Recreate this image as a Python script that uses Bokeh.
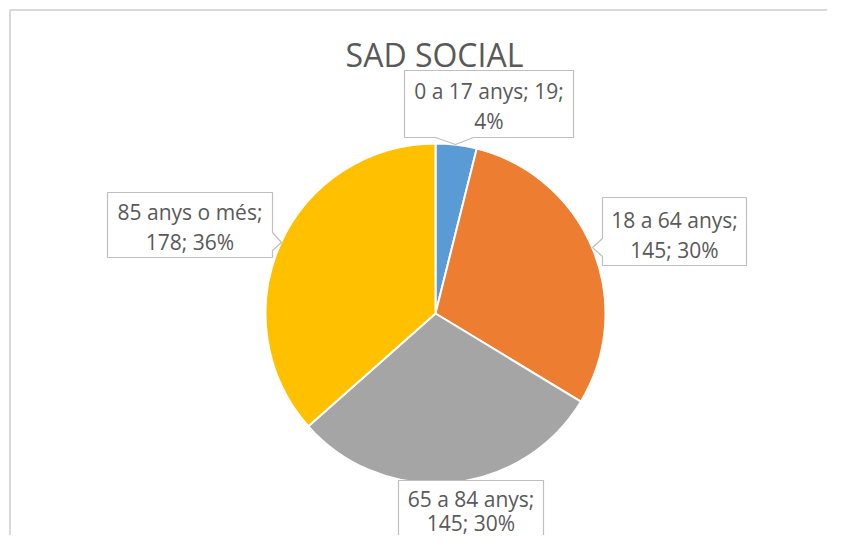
import numpy as np
from bokeh.plotting import figure
from bokeh.models import Range1d, ColumnDataSource
from bokeh.embed import file_html
from bokeh.resources import INLINE
from bokeh.core.properties import value

# ---- data ----
title_text = "SAD SOCIAL"
categories = ["0 a 17 anys", "18 a 64 anys", "65 a 84 anys", "85 anys o més"]
counts = [19, 145, 145, 178]
percent_labels = ["4%", "30%", "30%", "36%"]
colors = ["#5B9BD5", "#ED7D31", "#A5A5A5", "#FFC000"]
label_line1 = ["0 a 17 anys; 19;", "18 a 64 anys;", "65 a 84 anys;", "85 anys o més;"]
label_line2 = ["4%", "145; 30%", "145; 30%", "178; 36%"]

# ---- layout (screenshot pixel coords) ----
W, H = 827, 535


def X(px):
    return px


def Y(py):
    return H - py


CX, CY, R = 435, 313, 170

p = figure(width=W, height=H, x_range=Range1d(0, W), y_range=Range1d(0, H),
           output_backend="svg", toolbar_location=None, min_border=0)
p.axis.visible = False
p.grid.visible = False
p.outline_line_color = None
p.background_fill_color = "white"
p.border_fill_color = "white"

# chart area border (cropped at right/bottom)
p.line([X(9.5), X(9.5), X(900)], [Y(700), Y(9.5), Y(9.5)], line_color="#d9d9d9", line_width=2)

# ---- pie ----
vals = np.array(counts, dtype=float)
frac = vals / vals.sum()
cum_end = np.cumsum(frac)
cum_start = cum_end - frac
start = np.pi / 2 - 2 * np.pi * cum_end
end = np.pi / 2 - 2 * np.pi * cum_start
src = ColumnDataSource(dict(start=start, end=end, color=colors, cat=categories))
p.wedge(x=X(CX), y=Y(CY), radius=R, start_angle="start", end_angle="end",
        fill_color="color", line_color="white", line_width=2, source=src)

# ---- callouts ----
boxes = [
    [(404, 70), (573, 70), (573, 137), (473, 137), (455, 144), (435, 137), (404, 137)],
    [(602, 197), (746, 197), (746, 265), (602, 265), (602, 256), (592, 247), (602, 238)],
    [(398, 480), (543, 480), (543, 600), (398, 600)],
    [(107, 192), (272, 192), (272, 232), (281, 242), (272, 250), (272, 257), (107, 257)],
]
text_pos = [(488.5, 90, 120), (674, 219, 249), (470.5, 498, 522), (189.5, 211, 241)]

p.patches([[X(a) for a, b in bx] for bx in boxes], [[Y(b) for a, b in bx] for bx in boxes],
          fill_color="white", line_color="#bfbfbf", line_width=1.2)

tx, ty, tt = [], [], []
for i in range(len(categories)):
    x, y1, y2 = text_pos[i]
    tx += [X(x), X(x)]
    ty += [Y(y1), Y(y2)]
    tt += [label_line1[i], label_line2[i]]
p.text(x=tx, y=ty, text=tt, text_align="center", text_baseline="middle",
       text_font=value("Open Sans"), text_font_size="21px", text_color="#595959")

# title
p.text(x=[X(434)], y=[Y(54)], text=[title_text], text_align="center", text_baseline="middle",
       text_font=value("Open Sans"), text_font_size="32px", text_color="#595959")

open("out.html", "w").write(file_html(p, INLINE))
